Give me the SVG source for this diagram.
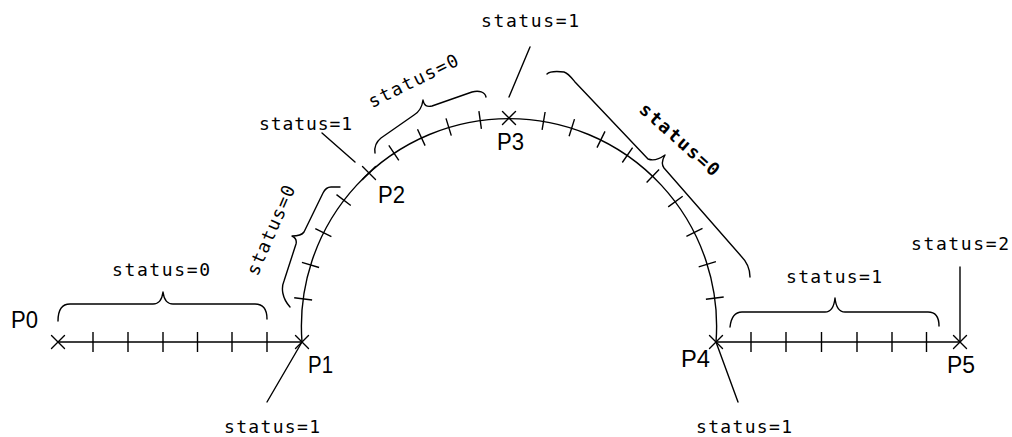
<svg xmlns="http://www.w3.org/2000/svg" xmlns:xlink="http://www.w3.org/1999/xlink" width="1012" height="437" viewBox="0 0 1012 437">
<style>
.ln{fill:none;stroke:#000;stroke-width:1.4;stroke-linecap:round;stroke-linejoin:round}
.tk{fill:none;stroke:#000;stroke-width:1.4}
.pt{font-family:"Liberation Sans",Arial,sans-serif;font-size:24px;fill:#000}
.st{font-family:"DejaVu Sans Mono","Liberation Mono",monospace;font-size:18px;fill:#000}
.stb{font-family:"DejaVu Sans Mono","Liberation Mono",monospace;font-size:18px;font-weight:bold;fill:#000}
</style>
<defs>
<path id="xm" d="M-6.5,-6.5 L6.5,6.5 M-6.5,6.5 L6.5,-6.5" class="ln"/>
</defs>
<rect width="1012" height="437" fill="#fff"/>

<g id="connectors">
<path class="ln" d="M58,342 H302"/>
<path class="ln" d="M716,342 H960"/>
<path class="ln" d="M302,342 A207.6,207.6 0 1,1 716,342"/>
<path class="tk" d="M93,332V352 M128,332V352 M163,332V352 M197.5,332V352 M232,332V352 M267,332V352"/>
<path class="tk" d="M751,332V352 M786,332V352 M821.5,332V352 M857,332V352 M892,332V352 M926.5,332V352"/>
<path class="tk" d="M294.2,297.7L312.1,300.0 M301.9,262.3L319.1,267.5 M315.3,228.6L331.4,236.7 M336.5,194.6L350.8,205.5"/>
<path class="tk" d="M388.8,145.4L398.8,160.4 M417.5,129.3L425.1,145.6 M446.0,118.4L451.3,135.6 M478.9,111.1L481.4,128.9"/>
<path class="tk" d="M545.1,112.0L542.1,129.8 M574.5,119.1L569.1,136.3 M605.0,131.4L597.0,147.6 M632.6,147.7L622.3,162.5 M659.1,169.4L646.6,182.4 M682.7,196.2L668.2,206.9 M702.5,228.3L686.4,236.4 M715.9,261.6L698.7,266.9 M723.7,297.0L705.9,299.3"/>
</g>

<g id="P0">
<use xlink:href="#xm" x="58" y="342"/>
<text class="pt" x="11" y="328" textLength="27" lengthAdjust="spacingAndGlyphs">P0</text>
</g>
<g id="P1">
<use xlink:href="#xm" x="302" y="342"/>
<text class="pt" x="308" y="373" textLength="25" lengthAdjust="spacingAndGlyphs">P1</text>
<path class="ln" d="M302,342 L267,402"/>
<text class="st" x="224" y="433" textLength="96">status=1</text>
</g>
<g id="P2">
<use xlink:href="#xm" x="369" y="173"/>
<text class="pt" x="378" y="203" textLength="27" lengthAdjust="spacingAndGlyphs">P2</text>
<path class="ln" d="M322,133 L355,162"/>
<text class="st" x="259" y="130" textLength="93">status=1</text>
</g>
<g id="P3">
<use xlink:href="#xm" x="509" y="118"/>
<text class="pt" x="497" y="150" textLength="27" lengthAdjust="spacingAndGlyphs">P3</text>
<path class="ln" d="M530,47 L509,97"/>
<text class="st" x="481" y="27" textLength="98">status=1</text>
</g>
<g id="P4">
<use xlink:href="#xm" x="716" y="342"/>
<text class="pt" x="681" y="367" textLength="29" lengthAdjust="spacingAndGlyphs">P4</text>
<path class="ln" d="M716,342 L738,402"/>
<text class="st" x="696" y="433" textLength="96">status=1</text>
</g>
<g id="P5">
<use xlink:href="#xm" x="960" y="342"/>
<text class="pt" x="947" y="373" textLength="28" lengthAdjust="spacingAndGlyphs">P5</text>
<path class="ln" d="M960,267 L960,342"/>
<text class="st" x="911" y="250" textLength="98">status=2</text>
</g>

<g id="segment-P0-P1">
<path class="ln" d="M58,321 C58,311 61,304 70,304 L153,304 C158,304 162,300 163,292 C164,300 168,304 173,304 L255,304 C264,304 267,311 267,319"/>
<text class="st" x="112" y="276" textLength="98">status=0</text>
</g>
<g id="segment-P1-P2">
<path class="ln" d="M290,307 C282,298 281,288 284,281 L296,244 C297,240 296,238 292,236 C298,236 302,235 304,232 L323,193 C325,189 327,187 331,187 L340,187"/>
<text class="st" transform="translate(271.5,230.5) rotate(-66.5)" x="0" y="5.5" text-anchor="middle" textLength="96">status=0</text>
</g>
<g id="segment-P2-P3">
<path class="ln" d="M375,153 C374,146 376,142 381,138 L414,115 C419,112 422,108 423,100 C424,106 427,107 432,106 L472,92 C479,90 485,92 486,97"/>
<text class="st" transform="translate(413.5,81.5) rotate(-26.3)" x="0" y="5.5" text-anchor="middle" textLength="98">status=0</text>
</g>
<g id="segment-P3-P4">
<path class="ln" d="M547,74 C550,71 555,71 564,72 C568,73 571,77 575,82 L648,159 C653,161 658,160 665,155 C662,160 661,164 664,168 L741,256 C747,262 750,268 750,277"/>
<text class="stb" transform="translate(679,140) rotate(41.6)" x="0" y="5.5" text-anchor="middle" textLength="100">status=0</text>
</g>
<g id="segment-P4-P5">
<path class="ln" d="M730,327 C731,318 734,312 742,312 L825,312 C830,312 834,308 835,298 C836,308 840,312 845,312 L928,312 C936,312 939,318 939,326"/>
<text class="st" x="786" y="283" textLength="96">status=1</text>
</g>
</svg>
